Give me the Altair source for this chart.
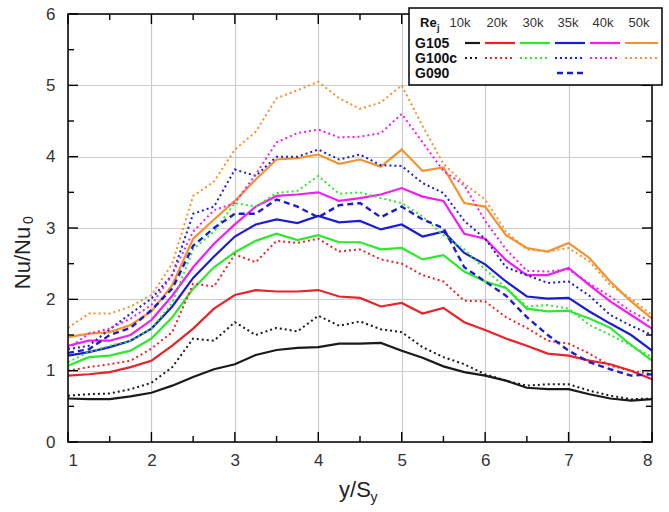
import altair as alt
import pandas as pd

# ---------------- data ----------------
X = [1.0, 1.25, 1.5, 1.75, 2.0, 2.25, 2.5, 2.75, 3.0, 3.25, 3.5, 3.75, 4.0, 4.25,
     4.5, 4.75, 5.0, 5.25, 5.5, 5.75, 6.0, 6.25, 6.5, 6.75, 7.0, 7.25, 7.5, 7.75, 8.0]

G105_10k = [0.61, 0.60, 0.60, 0.64, 0.69, 0.79, 0.91, 1.02, 1.09, 1.22, 1.29, 1.32, 1.33, 1.38,
            1.38, 1.39, 1.28, 1.18, 1.06, 0.98, 0.93, 0.86, 0.76, 0.74, 0.74, 0.67, 0.61, 0.58, 0.60]
G100c_10k = [0.65, 0.67, 0.68, 0.74, 0.83, 1.05, 1.45, 1.42, 1.68, 1.50, 1.60, 1.55, 1.77, 1.63,
             1.69, 1.58, 1.54, 1.33, 1.19, 1.09, 0.95, 0.86, 0.79, 0.81, 0.81, 0.72, 0.65, 0.60, 0.61]
G105_20k = [0.93, 0.95, 0.98, 1.05, 1.14, 1.35, 1.59, 1.87, 2.06, 2.13, 2.11, 2.11, 2.13, 2.04,
            2.02, 1.90, 1.95, 1.80, 1.88, 1.68, 1.57, 1.45, 1.35, 1.24, 1.21, 1.14, 1.09, 1.00, 0.88]
G100c_20k = [1.00, 1.05, 1.09, 1.14, 1.31, 1.54, 2.22, 2.18, 2.63, 2.52, 2.82, 2.79, 2.85, 2.67,
             2.70, 2.56, 2.50, 2.34, 2.25, 1.98, 1.97, 1.75, 1.60, 1.42, 1.38, 1.24, 1.07, 1.00, 0.95]
G105_30k = [1.07, 1.19, 1.21, 1.28, 1.45, 1.75, 2.15, 2.45, 2.66, 2.82, 2.92, 2.83, 2.90, 2.80,
            2.80, 2.70, 2.72, 2.56, 2.62, 2.39, 2.25, 2.16, 1.87, 1.83, 1.84, 1.73, 1.60, 1.36, 1.14]
G100c_30k = [1.12, 1.26, 1.35, 1.42, 1.59, 1.95, 2.70, 2.95, 3.35, 3.30, 3.49, 3.52, 3.73, 3.48,
             3.50, 3.42, 3.35, 3.16, 2.90, 2.70, 2.42, 2.16, 1.90, 1.92, 1.87, 1.64, 1.50, 1.35, 1.19]
G105_35k = [1.21, 1.26, 1.33, 1.42, 1.59, 1.90, 2.30, 2.60, 2.88, 3.05, 3.12, 3.07, 3.17, 3.08,
            3.10, 2.98, 3.05, 2.88, 2.95, 2.65, 2.49, 2.25, 2.04, 2.01, 2.02, 1.83, 1.66, 1.50, 1.28]
G100c_35k = [1.30, 1.35, 1.58, 1.80, 2.01, 2.34, 3.20, 3.30, 3.82, 3.73, 4.00, 4.00, 4.10, 3.96,
             4.03, 3.88, 3.87, 3.63, 3.49, 3.10, 2.85, 2.45, 2.34, 2.23, 2.25, 2.05, 1.78, 1.63, 1.50]
G090_35k = [1.25, 1.30, 1.50, 1.60, 1.85, 2.15, 2.75, 3.00, 3.20, 3.20, 3.40, 3.30, 3.15, 3.32,
            3.35, 3.15, 3.30, 3.12, 3.00, 2.45, 2.25, 2.05, 1.75, 1.50, 1.28, 1.12, 1.02, 0.93, 0.95]
G105_40k = [1.35, 1.42, 1.42, 1.50, 1.71, 2.05, 2.45, 2.78, 3.05, 3.30, 3.45, 3.47, 3.50, 3.38,
            3.42, 3.47, 3.56, 3.44, 3.38, 2.92, 2.85, 2.55, 2.34, 2.34, 2.44, 2.20, 1.97, 1.78, 1.59]
G100c_40k = [1.31, 1.52, 1.59, 1.73, 1.92, 2.35, 2.95, 3.25, 3.35, 3.75, 4.20, 4.33, 4.38, 4.27,
             4.28, 4.33, 4.60, 4.20, 3.80, 3.60, 3.10, 2.70, 2.40, 2.39, 2.42, 2.22, 2.04, 1.83, 1.68]
G105_50k = [1.47, 1.52, 1.54, 1.64, 1.83, 2.20, 2.85, 3.12, 3.38, 3.68, 3.96, 3.98, 4.03, 3.90,
            3.96, 3.86, 4.10, 3.80, 3.85, 3.35, 3.30, 2.90, 2.72, 2.67, 2.79, 2.58, 2.25, 1.97, 1.73]
G100c_50k = [1.60, 1.80, 1.80, 1.90, 2.06, 2.50, 3.45, 3.65, 4.10, 4.35, 4.82, 4.93, 5.05, 4.82,
             4.67, 4.76, 5.00, 4.43, 3.90, 3.62, 3.40, 2.95, 2.70, 2.67, 2.72, 2.53, 2.20, 2.01, 1.78]

RE_LABELS = ["10k", "20k", "30k", "35k", "40k", "50k"]
RE_COLORS = ["#1a1a1a", "#e8232a", "#2ee82e", "#1c1cd0", "#f01ef0", "#f4922e"]
GEOMS = ["G105", "G100c", "G090"]

X_TICKS = [1, 2, 3, 4, 5, 6, 7, 8]
X_MINOR = [1.5, 2.5, 3.5, 4.5, 5.5, 6.5, 7.5]
Y_TICKS = [0, 1, 2, 3, 4, 5, 6]
Y_MINOR = [0.5, 1.5, 2.5, 3.5, 4.5, 5.5]

SERIES = [
    ("G105", "10k", G105_10k), ("G105", "20k", G105_20k), ("G105", "30k", G105_30k),
    ("G105", "35k", G105_35k), ("G105", "40k", G105_40k), ("G105", "50k", G105_50k),
    ("G100c", "10k", G100c_10k), ("G100c", "20k", G100c_20k), ("G100c", "30k", G100c_30k),
    ("G100c", "35k", G100c_35k), ("G100c", "40k", G100c_40k), ("G100c", "50k", G100c_50k),
    ("G090", "35k", G090_35k),
]

# ---------------- layout ----------------
W, H = 584, 428
XMIN, XMAX, YMIN, YMAX = 1, 8, 0, 6
FONT = "Liberation Sans"
STYLE = {"G105": dict(strokeWidth=2.2),
         "G100c": dict(strokeWidth=2.0, strokeDash=[2, 3]),
         "G090": dict(strokeWidth=2.4, strokeDash=[6, 4])}

rows = []
for geom, re, vals in SERIES:
    for xv, yv in zip(X, vals):
        rows.append({"x": xv, "y": yv, "geom": geom, "re": re, "key": f"{geom} {re}"})
df = pd.DataFrame(rows)

xscale = alt.Scale(domain=[XMIN, XMAX], nice=False, zero=False)
yscale = alt.Scale(domain=[YMIN, YMAX], nice=False)
x_enc = alt.X("x:Q", scale=xscale,
              axis=alt.Axis(values=X_TICKS, format="d", title=None, grid=True, ticks=False,
                            domain=False, labelFontSize=17, labelFont=FONT, labelColor="#333333",
                            labelPadding=10, gridColor="#cccccc", gridWidth=1.2))
y_enc = alt.Y("y:Q", scale=yscale,
              axis=alt.Axis(values=Y_TICKS, format="d", title=None, grid=True, ticks=False,
                            domain=False, labelFontSize=17, labelFont=FONT, labelColor="#333333",
                            labelPadding=13, gridColor="#cccccc", gridWidth=1.2))
color_enc = alt.Color("re:N", scale=alt.Scale(domain=RE_LABELS, range=RE_COLORS), legend=None)

layers = []
for geom in ["G105", "G100c", "G090"]:
    layers.append(
        alt.Chart(df).transform_filter(alt.datum.geom == geom)
        .mark_line(**STYLE[geom])
        .encode(x=x_enc, y=y_enc, color=color_enc, detail="key:N")
    )

one = pd.DataFrame({"a": [0]})


def px(v):
    return (v - XMIN) / (XMAX - XMIN) * W


def py(v):
    return H - (v - YMIN) / (YMAX - YMIN) * H


def seg(x0, x1, y0, y1, color="#000000", **kw):
    return alt.Chart(one).mark_rule(color=color, **kw).encode(
        x=alt.value(x0), x2=alt.value(x1), y=alt.value(y0), y2=alt.value(y1))

# inward ticks on all four sides (axis decoration)
for vals, L in [(X_TICKS, 10), (X_MINOR, 6)]:
    for v in vals:
        p = px(v)
        layers.append(seg(p, p, H, H - L, strokeWidth=1.4))
        layers.append(seg(p, p, 0, L, strokeWidth=1.4))
for vals, L in [(Y_TICKS, 10), (Y_MINOR, 6)]:
    for v in vals:
        p = py(v)
        layers.append(seg(0, L, p, p, strokeWidth=1.4))
        layers.append(seg(W, W - L, p, p, strokeWidth=1.4))

# frame
layers.append(alt.Chart(one).mark_rect(fillOpacity=0, stroke="black", strokeWidth=1.5)
              .encode(x=alt.value(0), x2=alt.value(W), y=alt.value(0), y2=alt.value(H)))


def text(t, x, y, size, bold=False, align="left", angle=0, color="#111111"):
    kw = dict(text=t, fontSize=size, font=FONT, align=align, baseline="middle", color=color)
    if bold:
        kw["fontWeight"] = "bold"
    if angle:
        kw["angle"] = angle
    return alt.Chart(one).mark_text(**kw).encode(x=alt.value(x), y=alt.value(y))

# axis titles with subscripts
layers.append(text("Nu/Nu", -45, 244, 22, align="center", angle=270, color="#222222"))
layers.append(text("0", -39, 206, 14, align="center", angle=270, color="#222222"))
layers.append(text("y/S", 287, 476, 22, align="center", color="#222222"))
layers.append(text("y", 306, 484, 14, align="center", color="#222222"))

# legend box
BX0, BX1, BY0, BY1 = 341, 594, -6, 71
layers.append(alt.Chart(one).mark_rect(fill="white", stroke="black", strokeWidth=1.5)
              .encode(x=alt.value(BX0), x2=alt.value(BX1), y=alt.value(BY0), y2=alt.value(BY1)))
layers.append(text("Re", 352, 9, 13, bold=True))
layers.append(text("j", 369, 14, 9, bold=True))
col_centers = [392, 429, 465, 500, 535, 571]
sample_x = [(397, 412), (417, 447), (452, 482), (487, 517), (522, 552), (557, 590)]
for lab, cx in zip(RE_LABELS, col_centers):
    layers.append(text(lab, cx, 9, 13, align="center", color="#333333"))
row_y = {"G105": 29, "G100c": 44, "G090": 59}
for g in GEOMS:
    layers.append(text(g, 347, row_y[g] + 1, 14, bold=True))
for geom, re, _ in SERIES:
    i = RE_LABELS.index(re)
    x0, x1 = sample_x[i]
    if geom == "G090":
        x0, x1 = 489, 519
    layers.append(seg(x0, x1, row_y[geom], row_y[geom], color=RE_COLORS[i], **STYLE[geom]))

chart = alt.layer(*layers).properties(
    width=W, height=H,
    autosize=alt.AutoSizeParams(type="none"),
    padding={"left": 68, "top": 14, "right": 17, "bottom": 70},
    background="white",
).configure_view(stroke=None)

chart.save("out.html", embed_options={"renderer": "svg", "actions": False})
